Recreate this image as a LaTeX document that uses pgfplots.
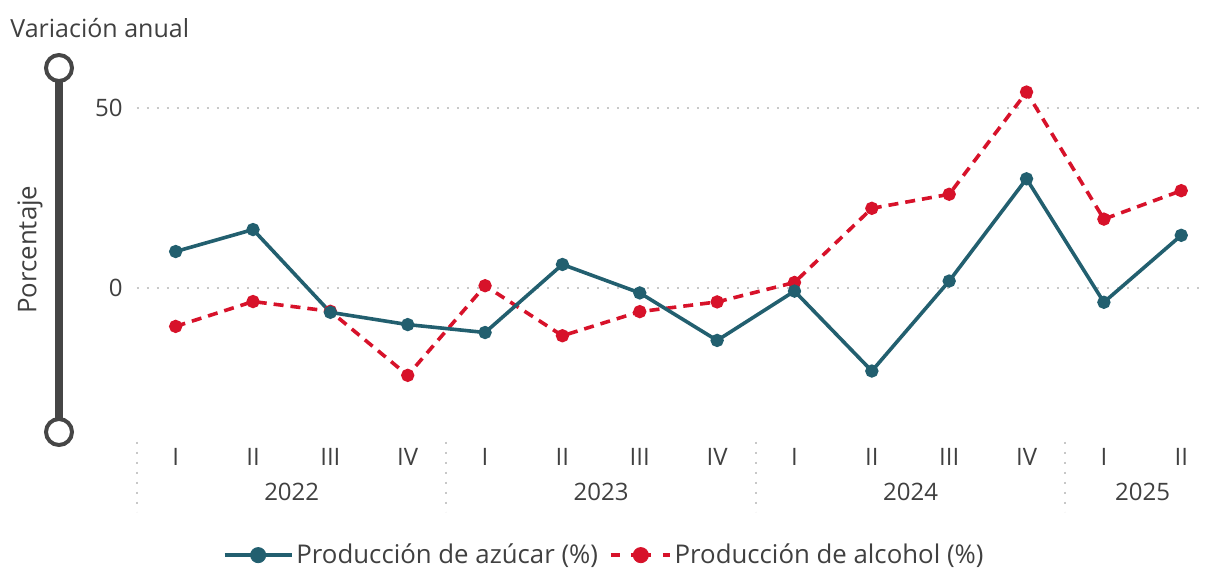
\documentclass[border=0pt]{standalone}
\usepackage{pgfplots}
\pgfplotsset{compat=1.18}
\usepackage{fontspec}
\setmainfont{Open Sans}
\definecolor{azu}{RGB}{34,95,111}
\definecolor{alc}{RGB}{215,18,42}
\definecolor{txt}{RGB}{64,64,64}
\definecolor{gridc}{RGB}{200,200,200}
\definecolor{slider}{RGB}{70,70,70}
\newcommand{\lblfont}{\fontsize{12}{14}\selectfont}
\newcommand{\legfont}{\fontsize{12.9}{15}\selectfont}
\begin{document}
\begin{tikzpicture}
\useasboundingbox (0,0) rectangle (603pt,285pt);
\begin{axis}[
  at={(68.5pt,69.25pt)}, anchor=south west, scale only axis,
  width=534.5pt, height=181.8pt,
  xmin=-0.5, xmax=13.32, ymin=-40, ymax=61,
  clip=false,
  axis line style={draw=none}, major tick length=0pt,
  ytick={0,50},
  ymajorgrids, grid style={gridc, line width=1pt, dash pattern=on 1pt off 4pt},
  xtick={0,...,13},
  xticklabels={I,II,III,IV,I,II,III,IV,I,II,III,IV,I,II},
  xticklabel style={anchor=center, yshift=-12.75pt},
  yticklabel style={anchor=east, inner xsep=0pt, xshift=-7pt},
  tick label style={font=\lblfont, text=txt},
  /pgf/number format/assume math mode=true,
  ylabel={Porcentaje},
  every axis y label/.style={at={(axis description cs:-0.1001,0.5)}, rotate=90, anchor=center, font=\legfont, text=txt},
  legend style={at={(0.4375,-0.34)}, anchor=center, draw=none, fill=none, font=\legfont, text=txt,
    nodes={inner xsep=1.5pt},
    /tikz/every even column/.append style={column sep=4pt}},
  legend columns=2, legend cell align=left,
]
\addlegendimage{legend image code/.code={\draw[azu, line width=1.8pt] (0pt,0pt) -- (33.5pt,0pt); \fill[azu] (16.75pt,0pt) circle (3.8pt);}}
\addlegendentry{Producción de azúcar (\%)}
\addlegendimage{legend image code/.code={\draw[alc, line width=1.8pt] (2pt,0pt) -- (6.5pt,0pt) (12pt,0pt) -- (22pt,0pt) (28pt,0pt) -- (31.5pt,0pt); \fill[alc] (17pt,0pt) circle (3.8pt);}}
\addlegendentry{Producción de alcohol (\%)}

\addplot[forget plot, alc, line width=1.8pt, dash pattern=on 5pt off 3.5pt, mark=*, mark size=2.4pt, mark options={solid}]
 coordinates {(0,-10.8) (1,-3.9) (2,-6.6) (3,-24.4) (4,0.5) (5,-13.4) (6,-6.7) (7,-4.0) (8,1.4) (9,22.0) (10,25.9) (11,54.3) (12,19.0) (13,26.9)};
\addplot[forget plot, azu, line width=1.8pt, mark=*, mark size=2.4pt]
 coordinates {(0,10.0) (1,16.1) (2,-6.9) (3,-10.3) (4,-12.5) (5,6.4) (6,-1.5) (7,-14.7) (8,-1.0) (9,-23.2) (10,1.8) (11,30.2) (12,-4.1) (13,14.5)};

\draw[gridc, line width=1pt, dash pattern=on 1pt off 4pt] (axis cs:-0.5,-40) ++(0pt,-5pt) -- ++(0pt,-35pt);
\draw[gridc, line width=1pt, dash pattern=on 1pt off 4pt] (axis cs:3.5,-40) ++(0pt,-5pt) -- ++(0pt,-35pt);
\draw[gridc, line width=1pt, dash pattern=on 1pt off 4pt] (axis cs:7.5,-40) ++(0pt,-5pt) -- ++(0pt,-35pt);
\draw[gridc, line width=1pt, dash pattern=on 1pt off 4pt] (axis cs:11.5,-40) ++(0pt,-5pt) -- ++(0pt,-35pt);
\node[font=\lblfont, text=txt, yshift=-30.25pt] at (axis cs:1.5,-40) {2022};
\node[font=\lblfont, text=txt, yshift=-30.25pt] at (axis cs:5.5,-40) {2023};
\node[font=\lblfont, text=txt, yshift=-30.25pt] at (axis cs:9.5,-40) {2024};
\node[font=\lblfont, text=txt, yshift=-30.25pt] at (axis cs:12.5,-40) {2025};
\end{axis}
\node[anchor=base west, inner sep=0pt, font=\fontsize{12.5}{15}\selectfont, text=txt] at (5pt,266.5pt) {Variación anual};
\draw[slider, line width=4pt] (29.5pt,251pt) -- (29.5pt,69pt);
\draw[slider, line width=2pt, fill=white] (29.5pt,251pt) circle (6.5pt);
\draw[slider, line width=2pt, fill=white] (29.5pt,69pt) circle (6.5pt);
\end{tikzpicture}
\end{document}
